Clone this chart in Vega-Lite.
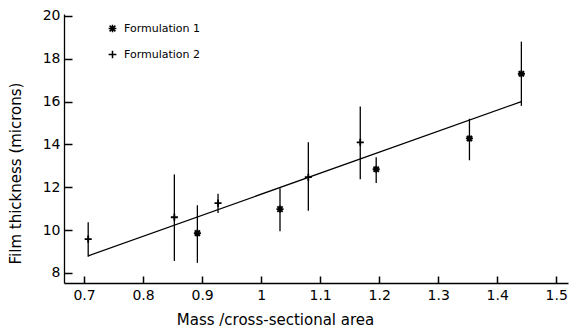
{
  "$schema": "https://vega.github.io/schema/vega-lite/v6.json",
  "width": 504,
  "height": 269,
  "autosize": "none",
  "padding": {"left": 64, "top": 14, "right": 2, "bottom": 47},
  "background": "white",
  "config": {
    "view": {"stroke": null},
    "font": "DejaVu Sans",
    "axis": {"domainColor": "black", "labelColor": "black", "titleColor": "black", "grid": false, "domainWidth": 1.3, "labelFont": "DejaVu Sans", "titleFont": "DejaVu Sans", "titleFontWeight": "normal"}
  },
  "datasets": {
    "points": [
      {"x": 0.707, "y": 9.58, "lo": 8.75, "hi": 10.37, "series": "Formulation 2"},
      {"x": 0.853, "y": 10.6, "lo": 8.56, "hi": 12.6, "series": "Formulation 2"},
      {"x": 0.927, "y": 11.26, "lo": 10.8, "hi": 11.7, "series": "Formulation 2"},
      {"x": 1.08, "y": 12.47, "lo": 10.9, "hi": 14.1, "series": "Formulation 2"},
      {"x": 1.168, "y": 14.1, "lo": 12.37, "hi": 15.77, "series": "Formulation 2"},
      {"x": 0.892, "y": 9.86, "lo": 8.47, "hi": 11.16, "series": "Formulation 1"},
      {"x": 1.032, "y": 10.98, "lo": 9.95, "hi": 11.95, "series": "Formulation 1"},
      {"x": 1.195, "y": 12.84, "lo": 12.2, "hi": 13.4, "series": "Formulation 1"},
      {"x": 1.353, "y": 14.28, "lo": 13.26, "hi": 15.2, "series": "Formulation 1"},
      {"x": 1.441, "y": 17.3, "lo": 15.8, "hi": 18.8, "series": "Formulation 1"}
    ],
    "fit": [
      {"x": 0.707, "y": 8.8},
      {"x": 1.441, "y": 16.0}
    ]
  },
  "resolve": {"axis": {"x": "independent", "y": "independent"}},
  "layer": [
    {
      "data": {"name": "fit"},
      "mark": {"type": "line", "color": "black", "strokeWidth": 1.3, "clip": false},
      "encoding": {
        "x": {
          "field": "x", "type": "quantitative",
          "scale": {"domain": [0.666, 1.52], "nice": false, "zero": false},
          "axis": {
            "orient": "bottom",
            "title": "Mass /cross-sectional area",
            "values": [0.7,0.8,0.9,1.0,1.1,1.2,1.3,1.4,1.5],
            "labelExpr": "datum.value == 1 ? '1' : format(datum.value, '.1f')",
            "ticks": false,
            "labelFontSize": 14,
            "labelPadding": 5,
            "labelFlush": false,
            "labelOverlap": false,
            "titleFontSize": 15,
            "titleX": 211,
            "titleY": 36,
            "titleAlign": "center",
            "titleBaseline": "middle"
          }
        },
        "y": {
          "field": "y", "type": "quantitative",
          "scale": {"domain": [7.53, 20.09], "nice": false, "zero": false},
          "axis": {
            "orient": "left",
            "title": "Film thickness (microns)",
            "values": [8,10,12,14,16,18,20],
            "ticks": false,
            "labelFontSize": 14,
            "labelPadding": 4,
            "labelFlush": false,
            "labelOverlap": false,
            "titleFontSize": 15,
            "titleAngle": -90,
            "titleX": -49,
            "titleY": 159,
            "titleAlign": "center",
            "titleBaseline": "middle"
          }
        }
      }
    },
    {
      "data": {"name": "points"},
      "mark": {"type": "rule", "color": "black", "strokeWidth": 1.3},
      "encoding": {
        "x": {
          "field": "x", "type": "quantitative",
          "axis": {
            "orient": "top",
            "offset": -269,
            "title": null,
            "labels": false,
            "domain": false,
            "ticks": true,
            "tickColor": "black",
            "tickWidth": 1.5,
            "tickSize": 7,
            "values": [0.7,0.8,0.9,1.0,1.1,1.2,1.3,1.4,1.5]
          }
        },
        "y": {
          "field": "lo", "type": "quantitative",
          "axis": {
            "orient": "right",
            "offset": -504,
            "title": null,
            "labels": false,
            "domain": false,
            "ticks": true,
            "tickColor": "black",
            "tickWidth": 1.5,
            "tickSize": 8,
            "values": [8,10,12,14,16,18,20]
          }
        },
        "y2": {"field": "hi"}
      }
    },
    {
      "data": {"name": "points"},
      "mark": {"type": "point", "filled": false, "color": "black", "size": 50, "strokeWidth": 1.8, "opacity": 1},
      "encoding": {
        "x": {"field": "x", "type": "quantitative", "axis": null},
        "y": {"field": "y", "type": "quantitative", "axis": null},
        "shape": {
          "field": "series", "type": "nominal",
          "scale": {"domain": ["Formulation 1", "Formulation 2"], "range": ["M-1,0H1M0,-1V1M-0.75,-0.75L0.75,0.75M-0.75,0.75L0.75,-0.75", "M-1,0H1M0,-1V1"]},
          "legend": {
            "title": null,
            "orient": "none",
            "legendX": 43,
            "legendY": 9,
            "padding": 0,
            "rowPadding": 11,
            "labelFontSize": 11,
            "labelFont": "DejaVu Sans",
            "labelColor": "black",
            "labelOffset": 6,
            "symbolSize": 60,
            "symbolFillColor": "transparent",
            "symbolStrokeColor": "black",
            "symbolStrokeWidth": 1.5
          }
        }
      }
    }
  ]
}
